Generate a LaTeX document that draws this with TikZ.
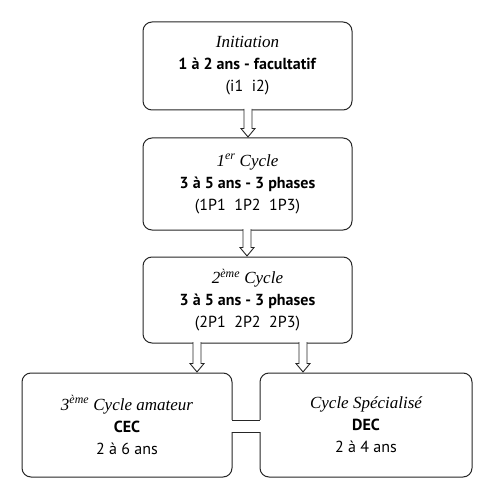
\documentclass[tikz,border=0pt]{standalone}
\usepackage{fontspec}
\setmainfont{PT Sans}
\newfontfamily\itserif{Liberation Serif}
\usetikzlibrary{calc}
\tikzset{
  box/.style={draw=black!85, line width=1pt, rounded corners=9pt, fill=white,
    align=center, inner sep=0pt,
    font=\fontsize{16}{22}\selectfont},
  harrow/.style={draw=black!85, line width=0.9pt, fill=white},
  hbar/.style={draw=black!85, line width=0.9pt},
}
\newcommand\cyc[1]{{\itserif\itshape\fontsize{17}{22}\selectfont #1}}
\newcommand\blockarrow[3]{%
  \path[harrow] let \p1=(#2.south), \p2=(#3.north) in
    ({#1pt-4pt},{\y1+1.5pt}) -- ({#1pt-4pt},{\y2+9pt}) -- ({#1pt-7pt},{\y2+9pt})
    -- ({#1pt},{\y2+0.5pt}) -- ({#1pt+7pt},{\y2+9pt}) -- ({#1pt+4pt},{\y2+9pt})
    -- ({#1pt+4pt},{\y1+1.5pt});}
\begin{document}
\begin{tikzpicture}[x=1pt,y=-1pt]
\useasboundingbox (0,0) rectangle (476,486);
\node[box, minimum width=209pt, minimum height=88pt] (b1) at (247.5,66)
  {\cyc{Initiation}\\ \textbf{1 à 2 ans - facultatif}\\ (i1~~i2)};
\node[box, minimum width=209pt, minimum height=92pt] (b2) at (247.5,184)
  {\cyc{1\textsuperscript{er} Cycle}\\ \textbf{3 à 5 ans - 3 phases}\\ (1P1~~1P2~~1P3)};
\node[box, minimum width=209pt, minimum height=86pt] (b3) at (247.5,300)
  {\cyc{2\textsuperscript{ème} Cycle}\\ \textbf{3 à 5 ans - 3 phases}\\ (2P1~~2P2~~2P3)};
\node[box, minimum width=210pt, minimum height=104pt] (b4) at (127,425)
  {\cyc{3\textsuperscript{ème} Cycle amateur}\\ \textbf{CEC}\\ 2 à 6 ans};
\node[box, minimum width=212pt, minimum height=104pt] (b5) at (366,425)
  {\cyc{Cycle Spécialisé}\\ \textbf{DEC}\\ 2 à 4 ans};
\blockarrow{248}{b1}{b2}
\blockarrow{247}{b2}{b3}
\blockarrow{197}{b3}{b4}
\blockarrow{303}{b3}{b5}
% link bar between the two lower boxes
\fill[white] let \p1=(b4.east), \p2=(b5.west) in
  ({\x1-1.5pt},{\y1+5pt}) rectangle ({\x2+1.5pt},{\y1-7pt});
\draw[hbar] let \p1=(b4.east), \p2=(b5.west) in
  ({\x1-0.5pt},{\y1+5pt}) -- ({\x2+0.5pt},{\y1+5pt})
  ({\x1-0.5pt},{\y1-7pt}) -- ({\x2+0.5pt},{\y1-7pt});
\end{tikzpicture}
\end{document}
